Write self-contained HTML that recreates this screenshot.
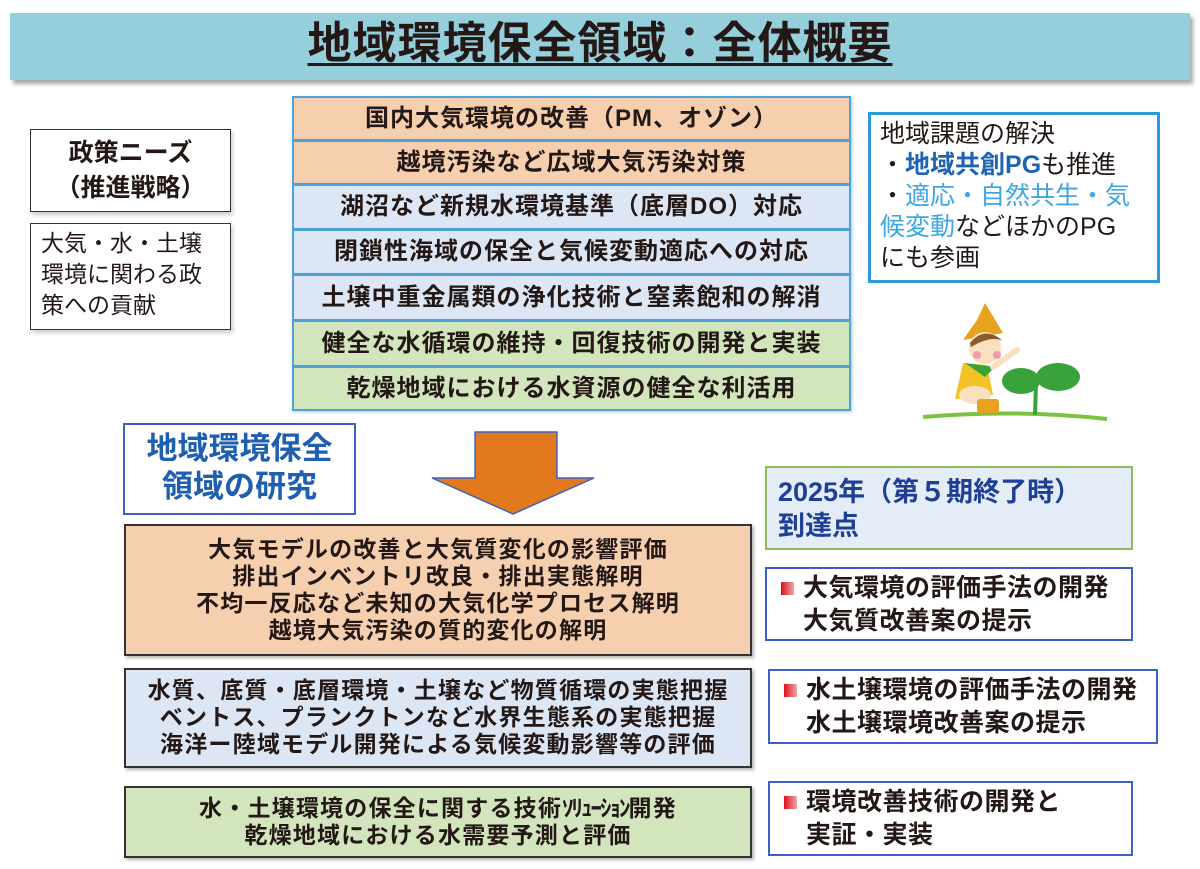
<!DOCTYPE html>
<html><head><meta charset="utf-8"><style>
*{margin:0;padding:0;box-sizing:border-box}
body{width:1200px;height:869px;background:#fff;position:relative;overflow:hidden;font-family:"Liberation Sans","Noto Sans CJK JP",sans-serif;color:#231815}
.a{position:absolute}
.title{left:10px;top:13px;width:1180px;height:67px;background:#95cfdc;box-shadow:3px 4px 4px rgba(0,0,0,.35);text-align:center;font-size:44px;font-weight:bold;line-height:62px;letter-spacing:1px}
.title span{text-decoration:underline;text-underline-offset:5px;text-decoration-thickness:3px}
.row{left:292px;width:559px;border:2px solid #4ea3dc;text-align:center;font-size:24px;letter-spacing:1px;font-weight:bold;box-shadow:1px 1px 3px rgba(80,150,220,.5);white-space:nowrap}
.o{background:#f5cfae}.b{background:#dde6f4}.g{background:#d2e5bc}
.lb{border:1.5px solid #333;background:#fff;box-shadow:2px 3px 4px rgba(0,0,0,.2)}
.big{left:124px;width:628px;border:2px solid #333;text-align:center;font-size:23px;letter-spacing:1.2px;font-weight:bold;line-height:27px;box-shadow:2px 2px 3px rgba(0,0,0,.3);white-space:nowrap}
.rb{border:2px solid #3b63c4;background:#fff;font-size:25px;letter-spacing:0.5px;font-weight:bold;line-height:33px;padding-left:36px;white-space:nowrap}
.sq{position:absolute;left:14px;top:13px;width:13px;height:13px;background:linear-gradient(90deg,#d81018,#f2a8a8)}
</style></head><body>
<div class="a title"><span>地域環境保全領域：全体概要</span></div>

<div class="a lb" style="left:30px;top:129px;width:201px;height:83px;text-align:center;font-size:25px;font-weight:bold;line-height:35px;padding-top:6px">政策ニーズ<br>（推進戦略）</div>
<div class="a lb" style="left:30px;top:223px;width:201px;height:107px;font-size:23px;line-height:31px;padding:4px 0 0 10px">大気・水・土壌<br>環境に関わる政<br>策への貢献</div>

<div class="a row o" style="top:96px;height:45px;line-height:41px">国内大気環境の改善（PM、オゾン）</div>
<div class="a row o" style="top:140px;height:45px;line-height:41px">越境汚染など広域大気汚染対策</div>
<div class="a row b" style="top:184px;height:46px;line-height:42px">湖沼など新規水環境基準（底層DO）対応</div>
<div class="a row b" style="top:229px;height:46px;line-height:42px">閉鎖性海域の保全と気候変動適応への対応</div>
<div class="a row b" style="top:274px;height:47px;line-height:43px">土壌中重金属類の浄化技術と窒素飽和の解消</div>
<div class="a row g" style="top:320px;height:47px;line-height:43px">健全な水循環の維持・回復技術の開発と実装</div>
<div class="a row g" style="top:366px;height:45px;line-height:41px">乾燥地域における水資源の健全な利活用</div>

<div class="a" style="left:868px;top:112px;width:292px;height:171px;border:3px solid #2a9ad8;background:#fff;font-size:25px;line-height:31px;padding:4px 0 0 9px;white-space:nowrap">地域課題の解決<br>・<b style="color:#1f64b3">地域共創PG</b>も推進<br>・<span style="color:#3ea6e0">適応・自然共生・気</span><br><span style="color:#3ea6e0">候変動</span>などほかのPG<br>にも参画</div>

<svg class="a" style="left:915px;top:295px" width="200" height="130" viewBox="0 0 200 130">
<path d="M8 122 Q100 114 192 124" stroke="#7cc242" stroke-width="4" fill="none"/>
<path d="M120 120 L121 88" stroke="#3aa23a" stroke-width="4"/>
<ellipse cx="106" cy="86" rx="19" ry="13" fill="#3aa23a"/>
<ellipse cx="143" cy="82" rx="22" ry="14" fill="#3aa23a"/>
<path d="M48 68 L72 70 L78 100 L40 104 Z" fill="#f2c227"/>
<path d="M48 45 L62 25 L70 8 L88 38 Z" fill="#e8a21d"/>
<circle cx="70" cy="53" r="16" fill="#fbe0c0"/>
<path d="M55 48 Q70 30 88 46 Q76 40 56 52Z" fill="#8a5a2b"/>
<circle cx="62" cy="60" r="4" fill="#f39aa8"/><circle cx="82" cy="60" r="4" fill="#f39aa8"/>
<path d="M50 68 L80 72 L70 82 Z" fill="#3aa23a"/>
<path d="M78 72 L102 55" stroke="#fbe0c0" stroke-width="6" stroke-linecap="round"/>
<ellipse cx="60" cy="100" rx="16" ry="9" fill="#fbe0c0"/>
<rect x="62" y="104" width="22" height="14" rx="3" fill="#e8a21d"/>
</svg>

<div class="a" style="left:123px;top:423px;width:233px;height:92px;border:2px solid #3b63c4;background:#fff;color:#1f5fb0;text-align:center;font-size:31px;font-weight:bold;line-height:38px;padding-top:5px;white-space:nowrap">地域環境保全<br>領域の研究</div>

<svg class="a" style="left:430px;top:430px" width="166" height="86"><path d="M45 2 H127 V48 H164 L83 84 L2 48 H45 Z" fill="#e2791c" stroke="#3b63c4" stroke-width="1.5"/></svg>

<div class="a" style="left:765px;top:466px;width:368px;height:84px;border:2px solid #8cbf5a;background:#e3ecf7;color:#1f3f95;font-size:27px;font-weight:bold;line-height:34px;padding:7px 0 0 11px;white-space:nowrap">2025年（第５期終了時）<br>到達点</div>

<div class="a big o" style="top:524px;height:132px;padding-top:10px">大気モデルの改善と大気質変化の影響評価<br>排出インベントリ改良・排出実態解明<br>不均一反応など未知の大気化学プロセス解明<br>越境大気汚染の質的変化の解明</div>
<div class="a big b" style="top:668px;height:100px;padding-top:7px">水質、底質・底層環境・土壌など物質循環の実態把握<br>ベントス、プランクトンなど水界生態系の実態把握<br>海洋ー陸域モデル開発による気候変動影響等の評価</div>
<div class="a big g" style="top:786px;height:72px;padding-top:7px">水・土壌環境の保全に関する技術<span style="letter-spacing:-2px">ｿﾘｭｰｼｮﾝ</span>開発<br>乾燥地域における水需要予測と評価</div>

<div class="a rb" style="left:765px;top:567px;width:368px;height:74px;padding-top:3px"><div class="sq"></div>大気環境の評価手法の開発<br>大気質改善案の提示</div>
<div class="a rb" style="left:768px;top:669px;width:390px;height:75px;padding-top:3px"><div class="sq"></div>水土壌環境の評価手法の開発<br>水土壌環境改善案の提示</div>
<div class="a rb" style="left:768px;top:781px;width:365px;height:75px;padding-top:3px"><div class="sq"></div>環境改善技術の開発と<br>実証・実装</div>
</body></html>
